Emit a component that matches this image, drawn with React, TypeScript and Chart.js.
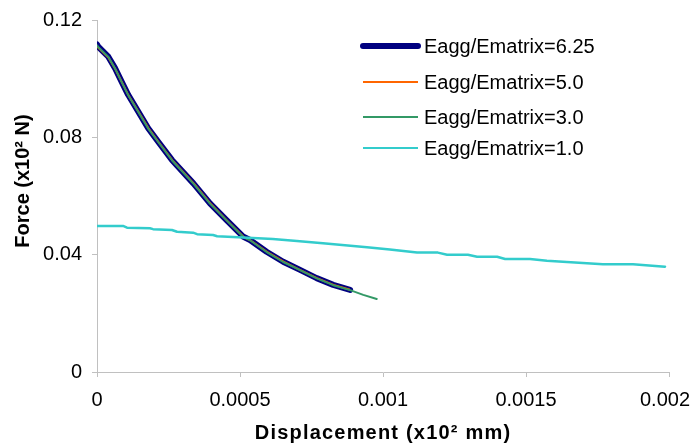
import { useEffect, useRef } from 'react';
import { Chart, registerables } from 'chart.js';

Chart.register(...registerables);

const FONT = "'Liberation Sans', Arial, Helvetica, sans-serif";

// ---- Data ----
const seriesLabels = ['Eagg/Ematrix=6.25', 'Eagg/Ematrix=5.0', 'Eagg/Ematrix=3.0', 'Eagg/Ematrix=1.0'];
const seriesColors = ['#000080', '#FF6600', '#339966', '#33CCCC'];

const xTickLabels = ['0', '0.0005', '0.001', '0.0015', '0.002'];
const yTickLabels = ['0', '0.04', '0.08', '0.12'];

const disp625 = [0, 0.0000045, 0.0000395, 0.000063, 0.000086, 0.000109, 0.000144, 0.000179, 0.000214, 0.000262, 0.000337, 0.000395, 0.000453, 0.000512, 0.000535, 0.000593, 0.000651, 0.00071, 0.000768, 0.000826, 0.000885];
const force625 = [0.1117, 0.1109, 0.1075, 0.1036, 0.099, 0.0945, 0.0888, 0.0831, 0.0785, 0.0723, 0.0643, 0.0575, 0.0518, 0.0461, 0.045, 0.041, 0.0376, 0.0348, 0.032, 0.0297, 0.028];

const disp50 = [0, 0.000005, 0.00004, 0.000064, 0.000087, 0.00011, 0.000145, 0.00018, 0.000215, 0.000263, 0.000338, 0.000396, 0.000454, 0.000513, 0.000536, 0.000594, 0.000652, 0.000711, 0.000769, 0.000827, 0.000882];
const force50 = [0.1112, 0.1105, 0.1072, 0.1033, 0.0988, 0.0943, 0.0887, 0.0831, 0.0784, 0.0722, 0.0643, 0.0575, 0.0517, 0.046, 0.0449, 0.041, 0.0376, 0.0347, 0.032, 0.0297, 0.0281];

const disp30 = [0, 0.000005, 0.00004, 0.000063, 0.000086, 0.000109, 0.000144, 0.000179, 0.000214, 0.000262, 0.000337, 0.000395, 0.000453, 0.000512, 0.000535, 0.000593, 0.000651, 0.00071, 0.000768, 0.000826, 0.000885, 0.000931, 0.000978];
const force30 = [0.1114, 0.1107, 0.1074, 0.1035, 0.0989, 0.0944, 0.0887, 0.083, 0.0784, 0.0722, 0.0642, 0.0574, 0.0517, 0.046, 0.0449, 0.0409, 0.0375, 0.0347, 0.0319, 0.0296, 0.0279, 0.0263, 0.0249];

const disp10 = [0, 0.0000909, 0.000105, 0.000185, 0.000196, 0.000262, 0.00028, 0.000336, 0.00035, 0.000406, 0.00042, 0.000476, 0.000615, 0.000699, 0.00079, 0.000944, 0.001024, 0.001119, 0.001192, 0.001224, 0.001297, 0.001329, 0.001399, 0.001427, 0.001514, 0.001573, 0.001769, 0.001874, 0.001986];
const force10 = [0.0498, 0.0498, 0.0492, 0.049, 0.0487, 0.0484, 0.0478, 0.0475, 0.047, 0.0467, 0.0463, 0.046, 0.0453, 0.0447, 0.0439, 0.0425, 0.0418, 0.0407, 0.0407, 0.04, 0.04, 0.0393, 0.0393, 0.0385, 0.0385, 0.0379, 0.0367, 0.0367, 0.0359];

const xTitle = 'Displacement (x10\u00B2 mm)';
const yTitle = 'Force (x10\u00B2 N)';

const toPts = (xs: number[], ys: number[]) => xs.map((x, i) => ({ x, y: ys[i] }));
const labelFor = (labels: string[], v: number) => {
  const l = labels.find((s) => Math.abs(Number(s) - v) < 1e-9);
  return l === undefined ? '' : l;
};

const decorPlugin = {
  id: 'decor',
  beforeDraw(chart: any) {
    // keep the last x tick label inside the canvas (as the reference does)
    const xs = chart.scales.x;
    if (!xs || !xs.getLabelItems) return;
    const items = xs.getLabelItems();
    const last = items && items[items.length - 1];
    if (last && last.options && last.options.translation) {
      const ctx = chart.ctx;
      ctx.save();
      ctx.font = `20px ${FONT}`;
      const w = ctx.measureText(String(last.label)).width;
      ctx.restore();
      const cx = last.options.translation[0];
      const maxRight = chart.width - 1;
      if (cx + w / 2 > maxRight) {
        last.options.textAlign = 'right';
        last.options.translation = [maxRight, last.options.translation[1]];
      }
    }
  },
  afterDraw(chart: any) {
    const { ctx, chartArea } = chart;
    ctx.save();
    // Legend inside the plot area
    const lx0 = chartArea.left + 266;
    const lx1 = chartArea.left + 321;
    const tx = chartArea.left + 327;
    const rows = [46, 82, 117, 148];
    ctx.font = `20px ${FONT}`;
    ctx.textBaseline = 'middle';
    ctx.textAlign = 'left';
    chart.data.datasets.forEach((ds: any, i: number) => {
      const y = rows[i];
      ctx.beginPath();
      ctx.strokeStyle = ds.borderColor;
      ctx.lineWidth = i === 0 ? 6 : 2;
      ctx.lineCap = i === 0 ? 'round' : 'butt';
      ctx.moveTo(lx0, y);
      ctx.lineTo(lx1, y);
      ctx.stroke();
      ctx.fillStyle = '#000';
      ctx.fillText(ds.label, tx, y + 1);
    });
    // Axis titles
    ctx.font = `bold 20px ${FONT}`;
    ctx.fillStyle = '#000';
    ctx.textAlign = 'center';
    ctx.textBaseline = 'middle';
    (ctx as any).letterSpacing = '1.2px';
    ctx.fillText(xTitle, (chartArea.left + chartArea.right) / 2, 433);
    (ctx as any).letterSpacing = '0px';
    ctx.translate(22, 181);
    ctx.rotate(-Math.PI / 2);
    ctx.fillText(yTitle, 0, 1);
    ctx.restore();
  },
};

export default function App() {
  const ref = useRef<HTMLCanvasElement>(null);
  useEffect(() => {
    if (!ref.current) return;
    const tickFont = { family: FONT, size: 20 };
    const axisColor = '#c0c0c0';
    const mk = (i: number, pts: any[], width: number, order: number) => ({
      label: seriesLabels[i],
      data: pts,
      borderColor: seriesColors[i],
      backgroundColor: seriesColors[i],
      borderWidth: width,
      showLine: true,
      pointRadius: 0,
      pointHoverRadius: 0,
      tension: 0,
      borderCapStyle: 'round',
      borderJoinStyle: 'round',
      order,
    });
    const chart = new Chart(ref.current, {
      type: 'scatter',
      data: {
        datasets: [
          mk(0, toPts(disp625, force625), 6, 3),
          mk(1, toPts(disp50, force50), 2, 2),
          mk(2, toPts(disp30, force30), 2, 1),
          mk(3, toPts(disp10, force10), 2.5, 0),
        ] as any,
      },
      options: {
        responsive: false,
        animation: false,
        devicePixelRatio: 1,
        layout: { padding: { left: 0, top: 20, right: 22, bottom: 0 } },
        plugins: { legend: { display: false }, tooltip: { enabled: false } },
        scales: {
          x: {
            type: 'linear',
            min: 0,
            max: 0.002,
            ticks: {
              stepSize: 0.0005,
              autoSkip: false,
              maxRotation: 0,
              padding: 11,
              color: '#000',
              font: tickFont,
              callback: (v: any) => labelFor(xTickLabels, Number(v)),
            },
            grid: { drawOnChartArea: false, drawTicks: true, tickLength: 5, color: axisColor },
            border: { display: true, color: axisColor, width: 1 },
            afterFit: (s: any) => {
              s.height = 74;
              s.paddingLeft = 0;
              s.paddingRight = 0;
            },
          },
          y: {
            type: 'linear',
            min: 0,
            max: 0.12,
            ticks: {
              stepSize: 0.04,
              autoSkip: false,
              padding: 10,
              color: '#000',
              font: tickFont,
              callback: (v: any) => labelFor(yTickLabels, Number(v)),
            },
            grid: { drawOnChartArea: false, drawTicks: true, tickLength: 5, color: axisColor },
            border: { display: true, color: axisColor, width: 1 },
            afterFit: (s: any) => {
              s.width = 97;
              s.paddingTop = 0;
              s.paddingBottom = 0;
            },
          },
        },
      } as any,
      plugins: [decorPlugin],
    });
    return () => chart.destroy();
  }, []);
  return (
    <div style={{ position: 'absolute', left: 0, top: 0, width: 691, height: 446, background: '#fff' }}>
      <canvas ref={ref} width={691} height={446} style={{ display: 'block', width: 691, height: 446 }} />
    </div>
  );
}
